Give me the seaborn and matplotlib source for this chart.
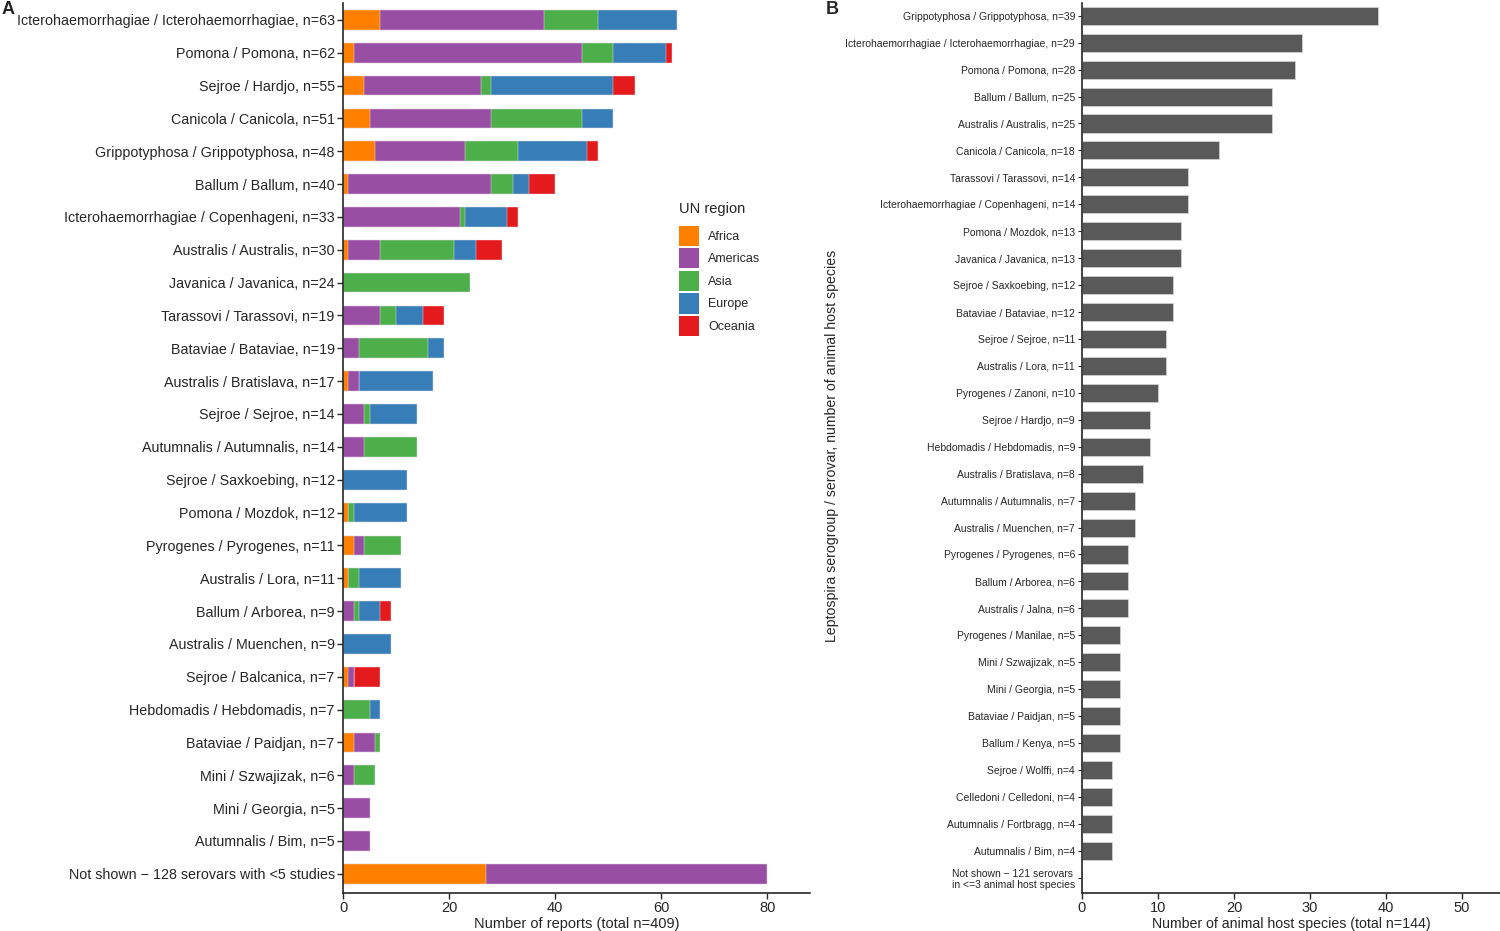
import matplotlib
matplotlib.use("Agg")
import matplotlib.pyplot as plt
import matplotlib.patches as patches
import numpy as np
import pandas as pd
import seaborn as sns

# panel A: reports per serovar, split by UN region
serovars_a = [
    "Icterohaemorrhagiae / Icterohaemorrhagiae, n=63", "Pomona / Pomona, n=62",
    "Sejroe / Hardjo, n=55", "Canicola / Canicola, n=51",
    "Grippotyphosa / Grippotyphosa, n=48", "Ballum / Ballum, n=40",
    "Icterohaemorrhagiae / Copenhageni, n=33", "Australis / Australis, n=30",
    "Javanica / Javanica, n=24", "Tarassovi / Tarassovi, n=19",
    "Bataviae / Bataviae, n=19", "Australis / Bratislava, n=17",
    "Sejroe / Sejroe, n=14", "Autumnalis / Autumnalis, n=14",
    "Sejroe / Saxkoebing, n=12", "Pomona / Mozdok, n=12",
    "Pyrogenes / Pyrogenes, n=11", "Australis / Lora, n=11",
    "Ballum / Arborea, n=9", "Australis / Muenchen, n=9",
    "Sejroe / Balcanica, n=7", "Hebdomadis / Hebdomadis, n=7",
    "Bataviae / Paidjan, n=7", "Mini / Szwajizak, n=6",
    "Mini / Georgia, n=5", "Autumnalis / Bim, n=5",
    "Not shown \u2212 128 serovars with <5 studies",
]
africa   = [7, 2, 4, 5, 6, 1, 0, 1, 0, 0, 0, 1, 0, 0, 0, 1, 2, 1, 0, 0, 1, 0, 2, 0, 0, 0, 27]
americas = [31, 43, 22, 23, 17, 27, 22, 6, 0, 7, 3, 2, 4, 4, 0, 0, 2, 0, 2, 0, 1, 0, 4, 2, 5, 5, 53]
asia     = [10, 6, 2, 17, 10, 4, 1, 14, 24, 3, 13, 0, 1, 10, 0, 1, 7, 2, 1, 0, 0, 5, 1, 4, 0, 0, 0]
europe   = [15, 10, 23, 6, 13, 3, 8, 4, 0, 5, 3, 14, 9, 0, 12, 10, 0, 8, 4, 9, 0, 2, 0, 0, 0, 0, 0]
oceania  = [0, 1, 4, 0, 2, 5, 2, 5, 0, 4, 0, 0, 0, 0, 0, 0, 0, 0, 2, 0, 5, 0, 0, 0, 0, 0, 0]

regions = ["Africa", "Americas", "Asia", "Europe", "Oceania"]
region_colors = ["#FF7F00", "#984EA3", "#4DAF4A", "#377EB8", "#E41A1C"]

# panel B: number of animal host species per serovar
serovars_b = [
    "Grippotyphosa / Grippotyphosa, n=39", "Icterohaemorrhagiae / Icterohaemorrhagiae, n=29",
    "Pomona / Pomona, n=28", "Ballum / Ballum, n=25", "Australis / Australis, n=25",
    "Canicola / Canicola, n=18", "Tarassovi / Tarassovi, n=14",
    "Icterohaemorrhagiae / Copenhageni, n=14", "Pomona / Mozdok, n=13",
    "Javanica / Javanica, n=13", "Sejroe / Saxkoebing, n=12", "Bataviae / Bataviae, n=12",
    "Sejroe / Sejroe, n=11", "Australis / Lora, n=11", "Pyrogenes / Zanoni, n=10",
    "Sejroe / Hardjo, n=9", "Hebdomadis / Hebdomadis, n=9", "Australis / Bratislava, n=8",
    "Autumnalis / Autumnalis, n=7", "Australis / Muenchen, n=7",
    "Pyrogenes / Pyrogenes, n=6", "Ballum / Arborea, n=6", "Australis / Jalna, n=6",
    "Pyrogenes / Manilae, n=5", "Mini / Szwajizak, n=5", "Mini / Georgia, n=5",
    "Bataviae / Paidjan, n=5", "Ballum / Kenya, n=5", "Sejroe / Wolffi, n=4",
    "Celledoni / Celledoni, n=4", "Autumnalis / Fortbragg, n=4", "Autumnalis / Bim, n=4",
    "Not shown \u2212 121 serovars\nin <=3 animal host species",
]
host_counts = [39, 29, 28, 25, 25, 18, 14, 14, 13, 13, 12, 12, 11, 11, 10, 9, 9, 8,
               7, 7, 6, 6, 6, 5, 5, 5, 5, 5, 4, 4, 4, 4, 0]

sns.set_style("ticks")
plt.rcParams['font.family'] = ['Liberation Sans', 'DejaVu Sans']

fig = plt.figure(figsize=(15, 9.31), dpi=100)
ax_a = fig.add_axes([0.2287, 0.041, 0.311, 0.956])
ax_b = fig.add_axes([0.7213, 0.041, 0.2787, 0.956])

# stacked bars: draw cumulative totals from the top layer down
df_a = pd.DataFrame({"serovar": serovars_a, "Africa": africa, "Americas": americas,
                     "Asia": asia, "Europe": europe, "Oceania": oceania})
cum = df_a[regions].cumsum(axis=1)
for reg, col in reversed(list(zip(regions, region_colors))):
    sns.barplot(x=cum[reg], y=df_a["serovar"], order=serovars_a, color=col,
                saturation=1, width=0.6, edgecolor="#f4e8f4", linewidth=0.3,
                ax=ax_a)

ax_a.set_xlim(0, 88)
ax_a.set_ylim(26.58, -0.52)
ax_a.set_xticks([0, 20, 40, 60, 80])
ax_a.set_xlabel("Number of reports (total n=409)", fontsize=10.5, labelpad=1)
ax_a.set_ylabel("")
ax_a.tick_params(axis="y", labelsize=10.25, length=4, width=1, pad=2)
ax_a.tick_params(axis="x", labelsize=10.5, length=4, width=1, pad=2)
sns.despine(ax=ax_a)
for sp in ax_a.spines.values():
    sp.set_linewidth(1.2)

handles = [patches.Patch(facecolor=c, edgecolor="none", label=r)
           for r, c in zip(regions, region_colors)]
leg = ax_a.legend(handles=handles, title="UN region", loc="upper left",
                  bbox_to_anchor=(0.71, 0.782), frameon=False, fontsize=9,
                  title_fontsize=10.5, handlelength=1.6, handleheight=2.1,
                  labelspacing=0.2, handletextpad=0.7, borderaxespad=0)
leg._legend_box.align = "left"
leg._legend_box.sep = 7

# panel B
df_b = pd.DataFrame({"serovar": serovars_b, "hosts": host_counts})
sns.barplot(data=df_b, x="hosts", y="serovar", order=serovars_b, color="#595959",
            saturation=1, width=0.67, edgecolor="#d0d0d0", linewidth=0.6, ax=ax_b)
ax_b.set_xlim(0, 55)
ax_b.set_ylim(32.56, -0.48)
ax_b.set_xticks([0, 10, 20, 30, 40, 50])
ax_b.set_xlabel("Number of animal host species (total n=144)", fontsize=10.2, labelpad=1)
ax_b.set_ylabel("")
ax_b.tick_params(axis="y", labelsize=7.5, length=3, width=0.8, pad=2)
ax_b.tick_params(axis="x", labelsize=10.5, length=4, width=1, pad=2)
for lab in ax_b.get_yticklabels():
    lab.set_multialignment("left")
sns.despine(ax=ax_b)
for sp in ax_b.spines.values():
    sp.set_linewidth(1.2)

fig.text(0.5545, 0.521, "Leptospira serogroup / serovar, number of animal host species",
         rotation=90, ha="center", va="center", fontsize=10.2)
fig.text(0.001, 0.999, "A", fontsize=13, fontweight="bold", ha="left", va="top")
fig.text(0.5507, 0.999, "B", fontsize=13, fontweight="bold", ha="left", va="top")

fig.savefig("out.png", dpi=100)
